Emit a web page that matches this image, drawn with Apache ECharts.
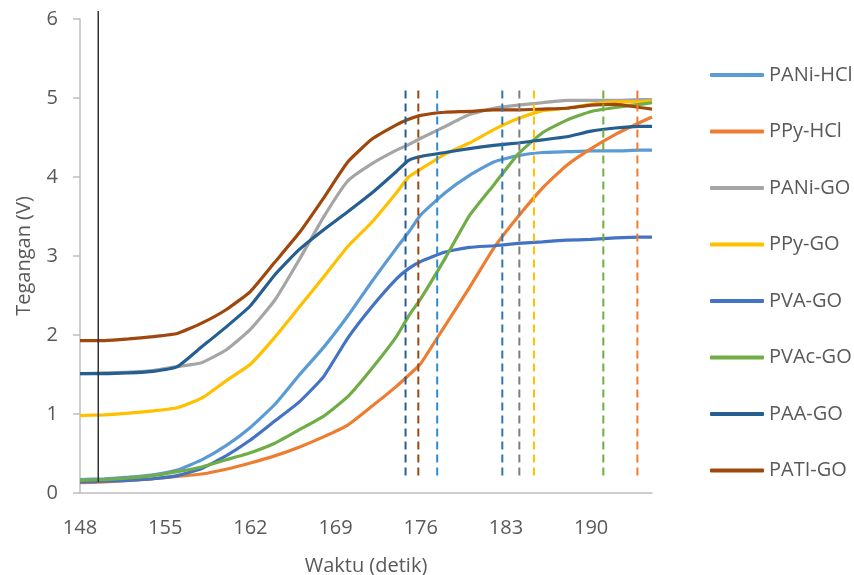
<!DOCTYPE html>
<html>
<head>
<meta charset="utf-8">
<script src="https://cdn.jsdelivr.net/npm/echarts@6/dist/echarts.min.js"></script>
<style>
  html, body { margin: 0; padding: 0; background: #fff; }
  #chart { width: 854px; height: 575px; }
</style>
</head>
<body>
<div id="chart"></div>
<script>
// waktu (detik)
const t = [148, 150, 152, 154, 156, 158, 160, 162, 164, 166, 168, 170, 172, 174, 175, 176, 178, 180, 182, 184, 186, 188, 190, 192, 194, 195]

// tegangan (V) tiap bahan
const paniHcl = [0.17, 0.18, 0.20, 0.23, 0.29, 0.42, 0.60, 0.83, 1.12, 1.49, 1.84, 2.24, 2.68, 3.10, 3.30, 3.52, 3.80, 4.02, 4.19, 4.27, 4.31, 4.32, 4.33, 4.33, 4.34, 4.34]
const ppyHcl = [0.13, 0.14, 0.16, 0.18, 0.21, 0.24, 0.30, 0.38, 0.47, 0.58, 0.71, 0.86, 1.10, 1.35, 1.49, 1.64, 2.12, 2.60, 3.10, 3.50, 3.86, 4.15, 4.36, 4.54, 4.69, 4.76]
const paniGo = [1.51, 1.52, 1.53, 1.55, 1.60, 1.65, 1.81, 2.07, 2.44, 2.95, 3.49, 3.95, 4.17, 4.34, 4.41, 4.49, 4.64, 4.79, 4.87, 4.91, 4.94, 4.97, 4.97, 4.97, 4.98, 4.98]
const ppyGo = [0.98, 0.99, 1.01, 1.04, 1.08, 1.20, 1.42, 1.63, 1.97, 2.35, 2.73, 3.12, 3.43, 3.80, 4.00, 4.10, 4.29, 4.43, 4.60, 4.74, 4.84, 4.87, 4.92, 4.95, 4.95, 4.96]
const pvaGo = [0.14, 0.15, 0.16, 0.18, 0.22, 0.31, 0.47, 0.67, 0.91, 1.15, 1.47, 1.96, 2.36, 2.71, 2.84, 2.93, 3.05, 3.11, 3.13, 3.16, 3.18, 3.20, 3.21, 3.23, 3.24, 3.24]
const pvacGo = [0.16, 0.17, 0.19, 0.22, 0.27, 0.33, 0.42, 0.51, 0.63, 0.80, 0.97, 1.22, 1.58, 1.98, 2.24, 2.46, 2.97, 3.51, 3.90, 4.29, 4.56, 4.72, 4.83, 4.88, 4.92, 4.94]
const paaGo = [1.51, 1.51, 1.52, 1.54, 1.60, 1.85, 2.10, 2.37, 2.76, 3.08, 3.33, 3.56, 3.80, 4.07, 4.21, 4.26, 4.31, 4.36, 4.40, 4.43, 4.47, 4.51, 4.58, 4.62, 4.64, 4.64]
const patiGo = [1.93, 1.93, 1.95, 1.98, 2.02, 2.15, 2.32, 2.55, 2.92, 3.29, 3.73, 4.19, 4.48, 4.66, 4.73, 4.78, 4.82, 4.83, 4.85, 4.85, 4.86, 4.87, 4.91, 4.92, 4.88, 4.86]

const names = ['PANi-HCl', 'PPy-HCl', 'PANi-GO', 'PPy-GO', 'PVA-GO', 'PVAc-GO', 'PAA-GO', 'PATI-GO']
const values = [paniHcl, ppyHcl, paniGo, ppyGo, pvaGo, pvacGo, paaGo, patiGo]
const colors = ['#5B9BD5', '#ED7D31', '#A5A5A5', '#FFC000', '#4472C4', '#70AD47', '#255E91', '#9E480E']

// garis putus-putus (waktu stabil tiap bahan)
const dashX = [174.75, 175.8, 177.35, 182.7, 184.1, 185.3, 191.0, 193.8]
const dashColors = ['#255E91', '#9E480E', '#2E8BD0', '#2E75B6', '#7F7F7F', '#FFC000', '#70AD47', '#ED7D31']
const dashRange = [0.22, 5.1]

// garis hitam awal
const startX = 149.5
const startRange = [0.14, 6.1]

const chart = echarts.init(document.getElementById('chart'))
const font = '"Open Sans", sans-serif'
const txt = '#595959'

const series = names.map((n, i) => ({
  name: n, type: 'line', symbol: 'none', smooth: 0.15,
  data: t.map((x, j) => [x, values[i][j]]),
  lineStyle: { color: colors[i], width: 3.2 },
  itemStyle: { color: colors[i] },
  z: 3,
}))

dashX.forEach((x, i) => series.push({
  type: 'line', symbol: 'none', silent: true, z: 4,
  data: dashRange.map(v => [x, v]),
  lineStyle: { color: dashColors[i], width: 2, type: [8, 5] },
}))

series.push({
  type: 'line', symbol: 'none', silent: true, clip: false, z: 4,
  data: startRange.map(v => [startX, v]),
  lineStyle: { color: '#333', width: 1.5 },
})

chart.setOption({
  backgroundColor: '#fff',
  animation: false,
  textStyle: { fontFamily: font },
  grid: { left: 80, right: 202, top: 19, bottom: 82, outerBoundsMode: 'none' },
  legend: {
    data: names, orient: 'vertical', left: 705, top: 58,
    icon: 'roundRect', itemWidth: 54, itemHeight: 4, itemGap: 32.5,
    textStyle: { color: txt, fontSize: 20, fontFamily: font, lineHeight: 24 },
  },
  xAxis: {
    type: 'value', min: 148, max: 195, interval: 7,
    name: 'Waktu (detik)', nameLocation: 'middle', nameGap: 63,
    nameTextStyle: { color: txt, fontSize: 20, fontFamily: font },
    axisLine: { lineStyle: { color: '#BFBFBF', width: 1.5 } },
    axisTick: { show: false },
    axisLabel: { color: txt, fontSize: 20, margin: 25, formatter: v => (v - 148) % 7 === 0 ? v : '' },
    splitLine: { show: false },
  },
  yAxis: {
    type: 'value', min: 0, max: 6, interval: 1,
    name: 'Tegangan (V)', nameLocation: 'middle', nameGap: 46,
    nameTextStyle: { color: txt, fontSize: 20, fontFamily: font },
    axisLine: { show: true, lineStyle: { color: '#BFBFBF', width: 1.5 } },
    axisTick: { show: true, length: 7, lineStyle: { color: '#BFBFBF', width: 1.5 } },
    axisLabel: { color: txt, fontSize: 20, margin: 22 },
    splitLine: { show: false },
  },
  series,
})
</script>
</body>
</html>
